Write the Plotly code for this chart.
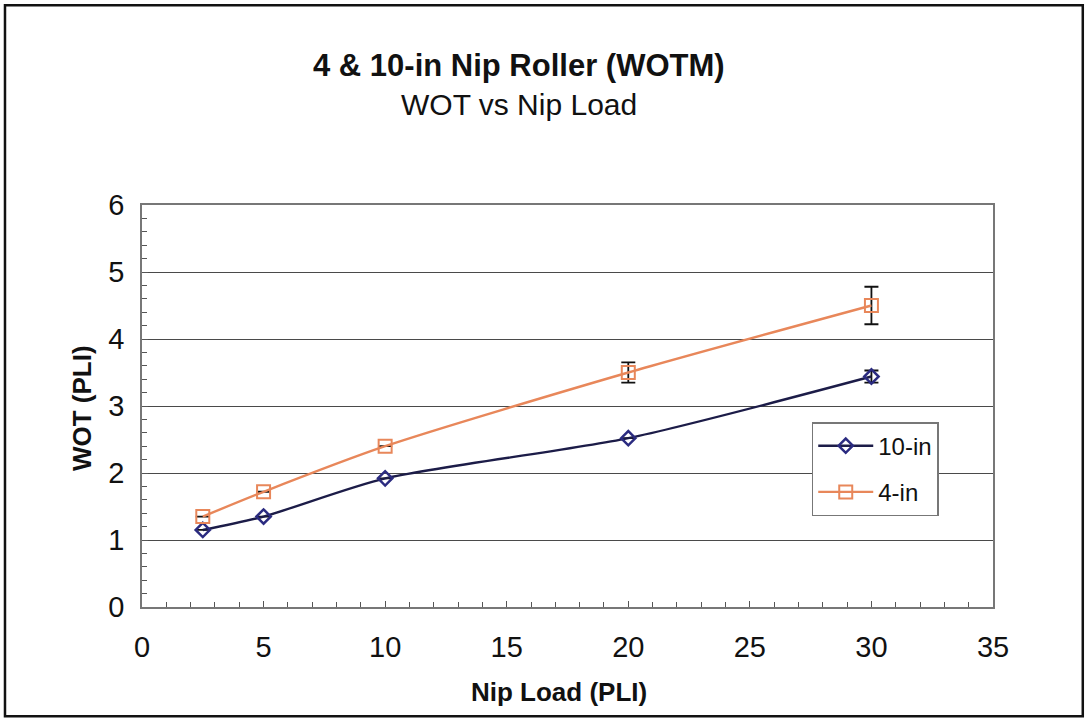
import plotly.graph_objects as go

# Nip load (PLI) and measured wound-on tension (PLI)
nip_load = [2.5, 5, 10, 20, 30]
wot_10in = [1.15, 1.35, 1.92, 2.52, 3.44]
wot_4in = [1.35, 1.72, 2.40, 3.50, 4.50]
err_10in = [0, 0, 0, 0, 0.09]
err_4in = [0, 0, 0, 0.15, 0.28]

series_names = ["10-in", "4-in"]
title_text = "4 & 10-in Nip Roller (WOTM)"
subtitle_text = "WOT vs Nip Load"
x_title = "Nip Load (PLI)"
y_title = "WOT (PLI)"

FONT = "Liberation Sans, Arial, sans-serif"
NARROW = "Liberation Sans Narrow, Arial Narrow, Liberation Sans, sans-serif"

fig = go.Figure()

fig.add_trace(go.Scatter(
    x=nip_load, y=wot_10in, name=series_names[0],
    legendgroup="a",
    mode="lines+markers",
    line=dict(color="#1c1c48", width=2.4, shape="spline", smoothing=0.7),
    marker=dict(symbol="diamond-open", size=11, color="#2b2b80",
                line=dict(width=2.5, color="#2b2b80")),
    error_y=dict(type="data", array=err_10in, visible=True,
                 color="#111111", thickness=1.8, width=7),
))
fig.add_trace(go.Scatter(
    x=nip_load, y=wot_4in, name=series_names[1],
    legendgroup="b",
    mode="lines+markers",
    line=dict(color="#e8875a", width=2.4, shape="spline", smoothing=0.7),
    marker=dict(symbol="square-open", size=13, color="#e8875a",
                line=dict(width=2, color="#e8875a")),
    error_y=dict(type="data", array=err_4in, visible=True,
                 color="#111111", thickness=1.8, width=7),
))

axis_common = dict(
    showline=True, linecolor="#777777", linewidth=1.5, mirror=True,
    tickfont=dict(family=NARROW, size=29, color="#111111"),
    zeroline=False,
)

fig.update_xaxes(
    range=[0, 35], dtick=5, tick0=0,
    showgrid=False,
    ticks="inside", ticklen=6, tickcolor="#555555",
    minor=dict(dtick=1, ticks="inside", ticklen=5, tickcolor="#555555"),
    ticklabelstandoff=13,
    **axis_common,
)
fig.update_yaxes(
    range=[0, 6], dtick=1, tick0=0,
    showgrid=True, gridcolor="#4a4a4a", gridwidth=1.3,
    ticks="inside", ticklen=6, tickcolor="#555555",
    minor=dict(dtick=0.2, ticks="inside", ticklen=5, tickcolor="#555555",
               showgrid=False),
    ticklabelstandoff=10,
    **axis_common,
)

annotations = [
    dict(text="<b>" + title_text + "</b>", x=0.443, y=1.346, xref="paper", yref="paper",
         xanchor="center", yanchor="middle",
         showarrow=False, font=dict(family=FONT, size=31, color="#111111")),
    dict(text=subtitle_text, x=0.443, y=1.249, xref="paper", yref="paper",
         xanchor="center", yanchor="middle",
         showarrow=False, font=dict(family=FONT, size=30, color="#111111")),
    dict(text="<b>" + x_title + "</b>", x=0.49, y=-0.211, xref="paper", yref="paper",
         xanchor="center", yanchor="middle",
         showarrow=False, font=dict(family=FONT, size=26, color="#111111")),
    dict(text="<b>" + y_title + "</b>", x=-0.0705, y=0.495, xref="paper", yref="paper",
         xanchor="center", yanchor="middle",
         textangle=-90, showarrow=False, font=dict(family=FONT, size=26, color="#111111")),
]

# outer chart frame
shapes = [
    dict(type="rect", xref="paper", yref="paper",
         x0=-0.161, x1=1.1055, y0=-0.272, y1=1.497,
         line=dict(color="#111111", width=2.5), fillcolor="rgba(0,0,0,0)", layer="below"),
]

fig.update_layout(
    width=1086, height=718,
    margin=dict(l=142, r=93, t=205, b=111),
    paper_bgcolor="white", plot_bgcolor="white",
    font=dict(family=FONT, color="#111111"),
    annotations=annotations,
    shapes=shapes,
    showlegend=True,
    legend=dict(
        x=0.787, y=0.46, xanchor="left", yanchor="top",
        bgcolor="white", bordercolor="#777777", borderwidth=1.5,
        font=dict(family=FONT, size=24, color="#111111"),
        traceorder="grouped", tracegroupgap=12,
        itemwidth=55,
    ),
)

fig.write_html("out.html")
